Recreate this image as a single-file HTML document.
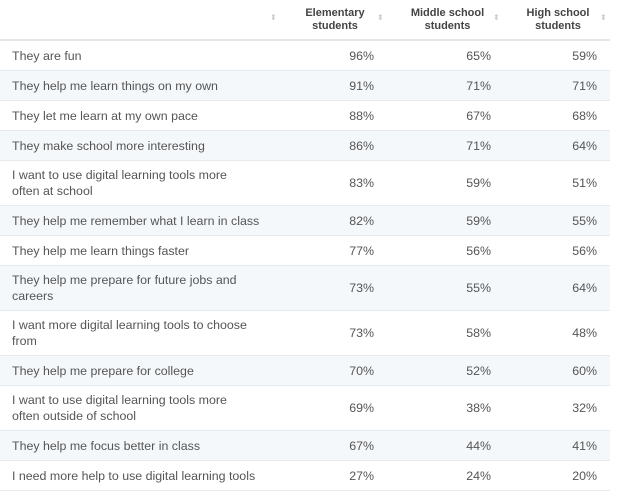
<!DOCTYPE html>
<html><head><style>
body{margin:0;width:619px;height:499px;background:#fff;font-family:"Liberation Sans",sans-serif;overflow:hidden;position:relative}
.h{position:absolute;font-size:11px;font-weight:bold;color:#444;text-align:center;line-height:13px}
.s{position:absolute;font-size:8px;color:#c8cdd2;line-height:8px}
.r{position:absolute;left:0;width:610px;border-bottom:1px solid #e6eaee;font-size:12.4px;color:#555}
.r.a{background:#f5f8fb}
.l{position:absolute;left:12px;line-height:16px}
.n{position:absolute;text-align:right;width:60px}
</style></head><body>
<div class="s" style="left:270px;top:14px">⬍</div>
<div class="h" style="left:300px;top:7px;width:70px">Elementary<br>students</div>
<div class="s" style="left:377px;top:14px">⬍</div>
<div class="h" style="left:405px;top:7px;width:85px">Middle school<br>students</div>
<div class="s" style="left:493px;top:14px">⬍</div>
<div class="h" style="left:523px;top:7px;width:70px">High school<br>students</div>
<div class="s" style="left:600px;top:14px">⬍</div>
<div style="position:absolute;left:0;top:39px;width:610px;height:2px;background:#e3e7eb"></div>
<div id="t"></div>
<script>
var d=[["They are fun",96,65,59],["They help me learn things on my own",91,71,71],["They let me learn at my own pace",88,67,68],["They make school more interesting",86,71,64],["I want to use digital learning tools more<br>often at school",83,59,51],["They help me remember what I learn in class",82,59,55],["They help me learn things faster",77,56,56],["They help me prepare for future jobs and<br>careers",73,55,64],["I want more digital learning tools to choose<br>from",73,58,48],["They help me prepare for college",70,52,60],["I want to use digital learning tools more<br>often outside of school",69,38,32],["They help me focus better in class",67,44,41],["I need more help to use digital learning tools",27,24,20]];
var y=41,h="";
d.forEach(function(r,i){var two=r[0].indexOf("<br>")>0;var ht=two?45:30;var c=(ht-1-16)/2;
h+='<div class="r'+(i%2?' a':'')+'" style="top:'+y+'px;height:'+(ht-1)+'px">'+
'<div class="l" style="top:'+(two?6:c)+'px">'+r[0]+'</div>'+
'<div class="n" style="left:314px;top:'+c+'px;line-height:16px">'+r[1]+'%</div>'+
'<div class="n" style="left:431px;top:'+c+'px;line-height:16px">'+r[2]+'%</div>'+
'<div class="n" style="left:537px;top:'+c+'px;line-height:16px">'+r[3]+'%</div></div>';
y+=ht;});
document.getElementById("t").innerHTML=h;
</script>
</body></html>
